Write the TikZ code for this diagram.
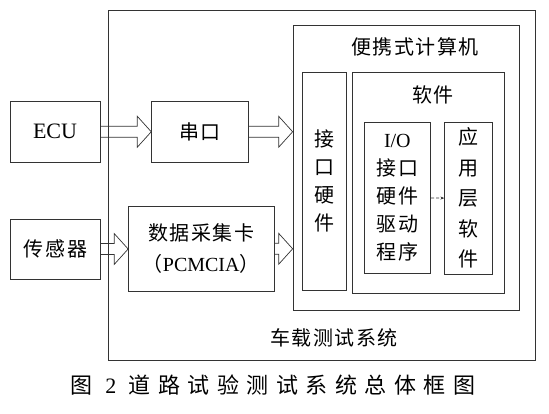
\documentclass[tikz,border=0pt]{standalone}
\usepackage{fontspec}
\setmainfont{Liberation Serif}
\newfontfamily\cjk[LetterSpace=8]{Noto Sans CJK SC}
\newfontfamily\cjkwide[LetterSpace=34]{Noto Sans CJK SC}
\usetikzlibrary{calc,arrows.meta}

% hollow block arrow from the east side of #1 to the west side of #2
\newcommand{\fatarrow}[2]{%
  \draw[fat] let \p1=(#1.east), \p2=(#2.west) in
    (\x1,\y1+5.5pt) -- (\x2-14pt,\y1+5.5pt) -- (\x2-14pt,\y1+15.5pt)
    -- (\x2,\y1) -- (\x2-14pt,\y1-15.5pt) -- (\x2-14pt,\y1-5.5pt) -- (\x1,\y1-5.5pt);}

\begin{document}
\begin{tikzpicture}[x=1pt, y=-1pt,
    box/.style={draw=black!80, line width=0.7pt, inner sep=0pt, align=center,
      font=\fontsize{20}{28}\selectfont},
    lbl/.style={inner sep=0pt, font=\fontsize{20}{24}\selectfont\cjk},
    fat/.style={draw=black!80, line width=0.7pt, line join=miter}]

    \useasboundingbox (0,0) rectangle (549,413);

    % Outer system and the portable computer
    \node[box, minimum width=426.5, minimum height=350] (sys) at (321.75,185) {};
    \node[box, minimum width=226, minimum height=284.5] (pc) at (406,167.75) {};
    \node[lbl] (syslbl) at (334,338) {车载测试系统};
    \node[lbl] (pclbl) at (415,47) {便携式计算机};

    % Inside the computer
    \node[box, minimum width=44, minimum height=217.5] (hw) at (324,181.25)
      {\cjk 接\\\cjk 口\\\cjk 硬\\\cjk 件};
    \node[box, minimum width=151.4, minimum height=220.5] (sw) at (428.3,182.75) {};
    \node[lbl] (swlbl) at (433,95) {软件};
    \node[box, minimum width=66.7, minimum height=150.5] (io) at (397.35,197.75)
      {I/O\\\cjk 接口\\\cjk 硬件\\\cjk 驱动\\\cjk 程序};
    \node[box, minimum width=47.9, minimum height=151.5,
      font=\fontsize{20}{30.5}\selectfont] (app) at (468.65,198.25)
      {\cjk 应\\\cjk 用\\\cjk 层\\\cjk 软\\\cjk 件};
    \draw[draw=black!80, densely dashed, line width=0.6pt, -{Stealth[length=4pt]}] (io) -- (app);

    % Sources on the left
    \node[box, minimum width=90, minimum height=60.5, font=\fontsize{22}{24}\selectfont] (ecu) at (55,131.75) {ECU};
    \node[box, minimum width=97, minimum height=60.5] (com) at (200.1,131.75) {\cjk 串口};
    \node[box, minimum width=90, minimum height=60] (sensor) at (55.5,249) {\cjk 传感器};
    \node[box, minimum width=145.5, minimum height=84.4,
      font=\fontsize{20}{31}\selectfont] (daq) at (201.25,248.8)
      {\cjk 数据采集卡\\{\cjk （}PCMCIA{\cjk ）}};

    % Block arrows
    \fatarrow{ecu}{com}
    \fatarrow{com}{pc}
    \fatarrow{sensor}{daq}
    \fatarrow{daq}{pc}

    % Caption
    \node[inner sep=0pt, font=\fontsize{22}{26}\selectfont\cjkwide] (cap) at (273,385)
      {图 {\rmfamily 2} 道路试验测试系统总体框图};

\end{tikzpicture}
\end{document}
